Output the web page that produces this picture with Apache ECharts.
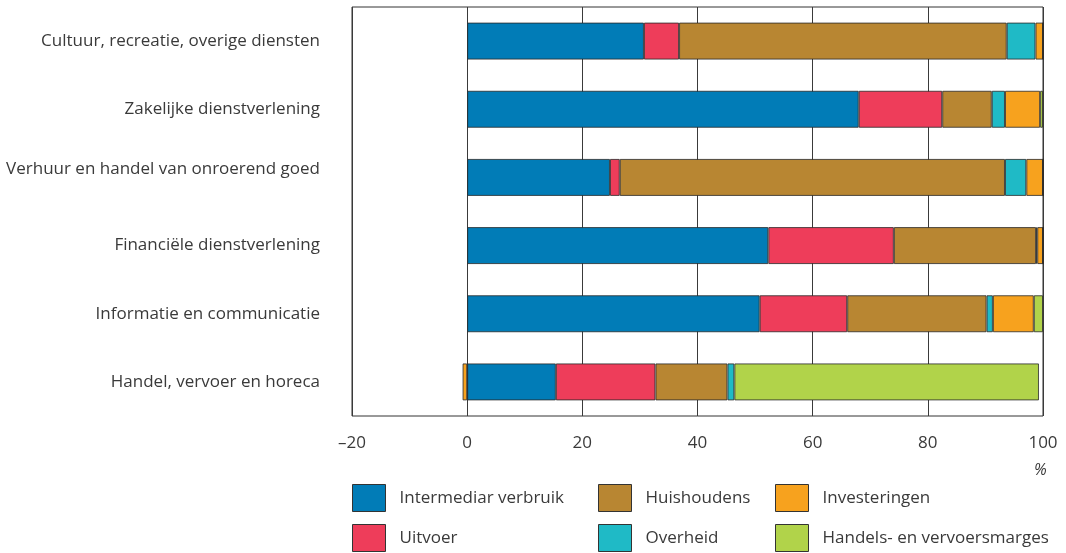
<!DOCTYPE html>
<html>
<head>
<meta charset="utf-8">
<script src="https://cdn.jsdelivr.net/npm/echarts@6/dist/echarts.min.js"></script>
<style>
html,body{margin:0;padding:0;background:#fff;}
#chart{width:1066px;height:553px;}
</style>
</head>
<body>
<div id="chart"></div>
<script>
var categories = [
  "Cultuur, recreatie, overige diensten",
  "Zakelijke dienstverlening",
  "Verhuur en handel van onroerend goed",
  "Financiële dienstverlening",
  "Informatie en communicatie",
  "Handel, vervoer en horeca"
];
var seriesNames = ["Intermediar verbruik", "Uitvoer", "Huishoudens", "Overheid", "Investeringen", "Handels- en vervoersmarges"];
var intermediar = [30.7, 68.0, 24.8, 52.3, 50.8, 15.4];
var uitvoer = [6.1, 14.5, 1.7, 21.8, 15.2, 17.3];
var huishoudens = [56.9, 8.6, 66.9, 24.7, 24.2, 12.5];
var overheid = [5.0, 2.3, 3.7, 0.2, 1.1, 1.2];
var investeringen = [1.3, 6.1, 2.9, 1.0, 7.1, -0.8];
var marges = [0, 0.5, 0, 0, 1.6, 52.9];
var xTicks = [-20, 0, 20, 40, 60, 80, 100];

var colors = ["#017cb7", "#ee3d5a", "#b88632", "#1fbac6", "#f7a21e", "#b1d34a"];
var values = [intermediar, uitvoer, huishoudens, overheid, investeringen, marges];
var FONT = "Open Sans";
var TXT = "#3a3a3a";

var series = seriesNames.map(function (n, i) {
  return {
    name: n,
    type: "bar",
    stack: "total",
    barWidth: 37,
    data: values[i],
    itemStyle: { color: colors[i], borderColor: "rgba(40,40,40,0.8)", borderWidth: 1 },
    emphasis: { disabled: true }
  };
});

function legendCol(left, names) {
  return {
    orient: "vertical",
    left: left,
    top: 484,
    height: 70,
    padding: 0,
    itemWidth: 33,
    itemHeight: 27,
    itemGap: 12,
    icon: "rect",
    selectedMode: false,
    data: names,
    itemStyle: { borderColor: "#333", borderWidth: 1 },
    textStyle: { fontFamily: FONT, fontSize: 17, color: TXT, padding: [0, 0, 0, 9] }
  };
}

var chart = echarts.init(document.getElementById("chart"), null, { renderer: "canvas" });
chart.setOption({
  animation: false,
  backgroundColor: "#fff",
  grid: { left: 352, right: 23, top: 7, bottom: 137, show: true, borderColor: "#333", borderWidth: 1, containLabel: false },
  xAxis: {
    type: "value",
    min: xTicks[0],
    max: xTicks[xTicks.length - 1],
    interval: 20,
    axisLine: { show: false },
    axisTick: { show: false },
    splitLine: { show: true, lineStyle: { color: "#3a3a3a", width: 1 } },
    axisLabel: {
      margin: 19,
      fontFamily: FONT,
      fontSize: 17,
      color: TXT,
      formatter: function (v) { return String(v).replace("-", "\u2013"); }
    }
  },
  yAxis: {
    type: "category",
    inverse: true,
    data: categories,
    axisLine: { show: false, onZero: false },
    axisTick: { show: false },
    splitLine: { show: false },
    axisLabel: {
      margin: 32,
      fontFamily: FONT,
      fontSize: 17,
      color: TXT,
      formatter: function (v) {
        return v === categories[2] ? "{up|" + v + "}" : v;
      },
      rich: { up: { fontFamily: FONT, fontSize: 17, color: TXT, padding: [0, 0, 16, 0] } }
    }
  },
  legend: [
    legendCol(352, [seriesNames[0], seriesNames[1]]),
    legendCol(598, [seriesNames[2], seriesNames[3]]),
    legendCol(775, [seriesNames[4], seriesNames[5]])
  ],
  graphic: [{
    type: "text",
    left: 1034,
    top: 462,
    style: { text: "%", fontFamily: FONT, fontSize: 16, fontStyle: "italic", fill: TXT }
  }],
  series: series
});
</script>
</body>
</html>
